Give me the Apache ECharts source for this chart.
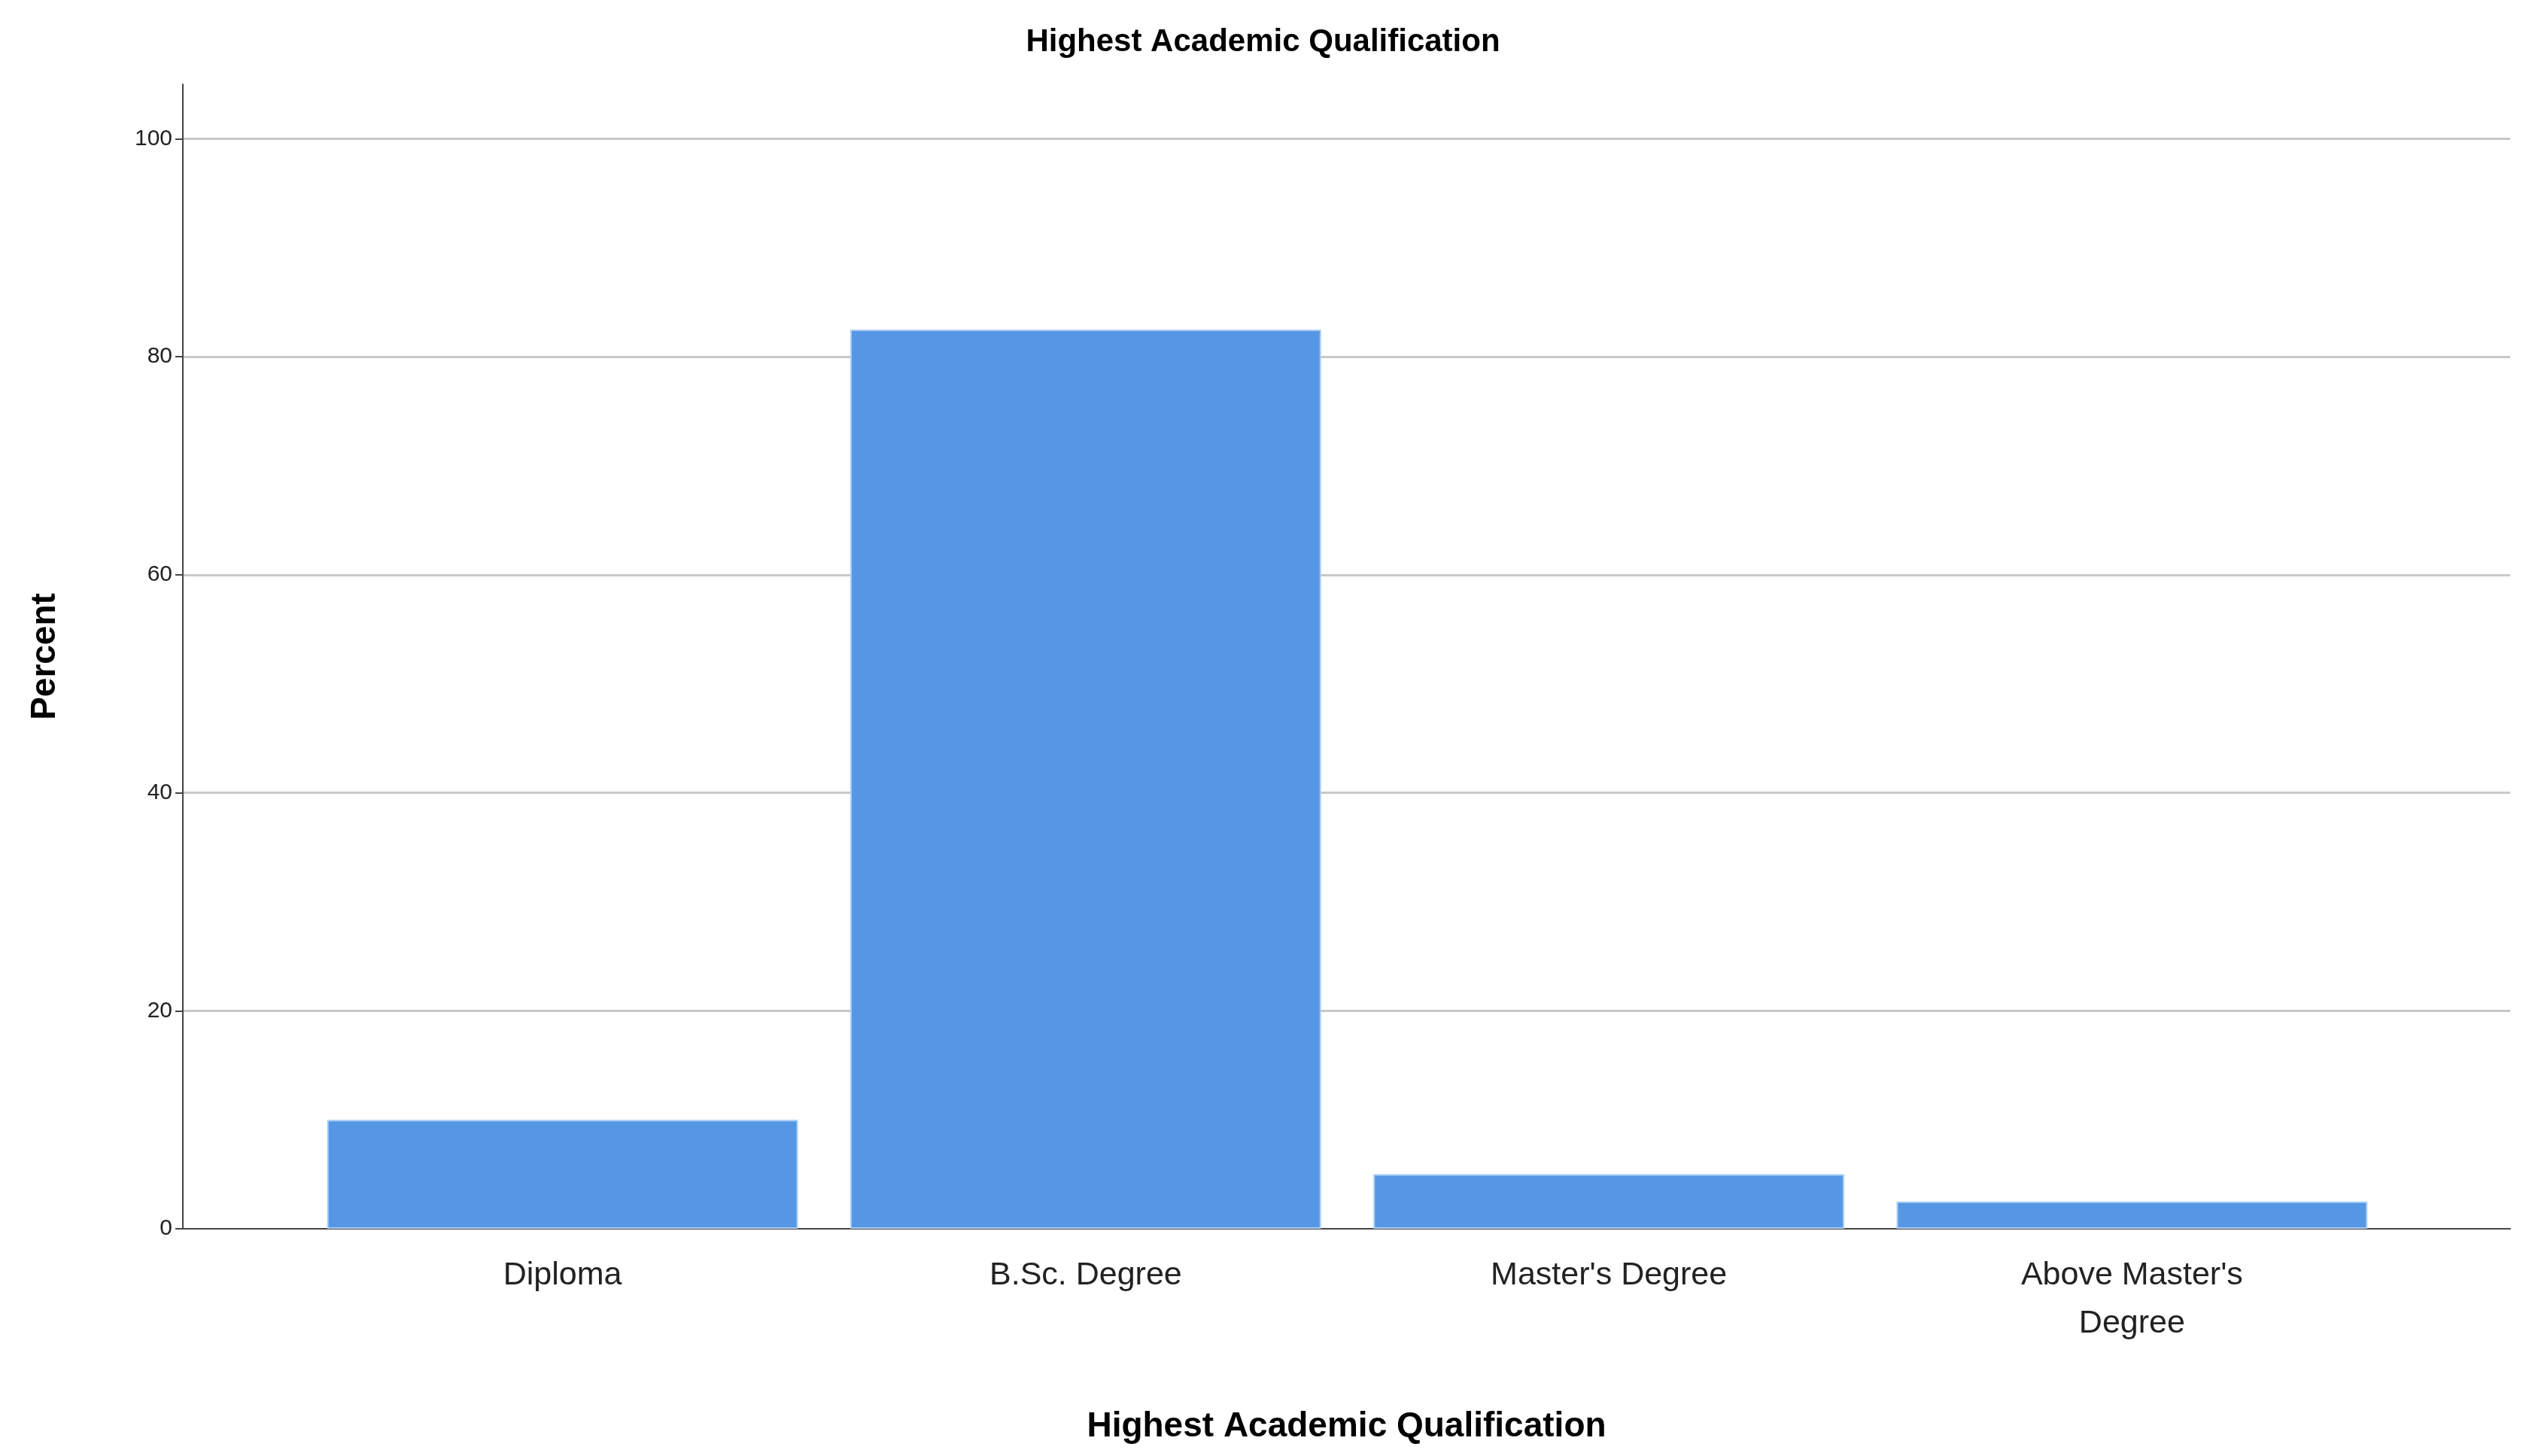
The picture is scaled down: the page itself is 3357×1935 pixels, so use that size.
<!DOCTYPE html>
<html>
<head>
<meta charset="utf-8">
<script src="https://cdn.jsdelivr.net/npm/echarts@6/dist/echarts.min.js"></script>
<style>
html, body { margin: 0; padding: 0; background: #fff; }
#chart { width: 3357px; height: 1935px; }
</style>
</head>
<body>
<div id="chart"></div>
<script>
var categories = ['Diploma', 'B.Sc. Degree', "Master's Degree", "Above Master's\nDegree"];
var percentValues = [10, 82.5, 5, 2.5];
var yTicks = { min: 0, max: 105, interval: 20 };

var font = 'Liberation Sans, Arial, sans-serif';
var chart = echarts.init(document.getElementById('chart'));

var option = {
	backgroundColor : '#fff',
	animation : false,
	title : {
		text : 'Highest Academic Qualification',
		left : 'center',
		top : 30,
		textStyle : { fontFamily : font, fontSize : 42, fontWeight : 'bold', color : '#000' }
	},
	grid : [
		// outer frame: y axis, gridlines, baseline
		{ left : 243, right : 21, top : 112, bottom : 302 },
		// inner band for the bars
		{ left : 400, right : 176, top : 112, bottom : 302 }
	],
	xAxis : [ {
		gridIndex : 0,
		type : 'value',
		min : 0, max : 1,
		axisLine : { show : true, onZero : false, lineStyle : { color : '#444', width : 2 } },
		axisTick : { show : false },
		axisLabel : { show : false },
		splitLine : { show : false },
		name : 'Highest Academic Qualification',
		nameLocation : 'middle',
		nameGap : 240,
		nameTextStyle : { fontFamily : font, fontSize : 46, fontWeight : 'bold', color : '#000' }
	}, {
		gridIndex : 1,
		type : 'category',
		data : categories,
		axisLine : { show : false },
		axisTick : { show : false },
		axisLabel : { fontFamily : font, fontSize : 43, color : '#222', margin : 30, lineHeight : 64 }
	} ],
	yAxis : [ {
		gridIndex : 0,
		type : 'value',
		min : yTicks.min, max : yTicks.max, interval : yTicks.interval,
		name : 'Percent',
		nameLocation : 'middle',
		nameGap : 160,
		nameTextStyle : { fontFamily : font, fontSize : 46, fontWeight : 'bold', color : '#000' },
		axisLine : { show : true, lineStyle : { color : '#444', width : 2 } },
		axisTick : { show : true, length : 10, lineStyle : { color : '#444', width : 2 } },
		axisLabel : { fontFamily : font, fontSize : 30, color : '#222', showMaxLabel : false, margin : 14 },
		splitLine : { show : true, showMaxLine : false, showMinLine : false, lineStyle : { color : '#c8c8c8', width : 3 } }
	}, {
		gridIndex : 1,
		type : 'value',
		min : yTicks.min, max : yTicks.max,
		show : false
	} ],
	series : [ {
		type : 'bar',
		xAxisIndex : 1,
		yAxisIndex : 1,
		barCategoryGap : '10%',
		data : percentValues,
		itemStyle : { color : '#5597e4', borderColor : '#a9cdf3', borderWidth : 2 }
	} ]
};

chart.setOption(option);
</script>
</body>
</html>
